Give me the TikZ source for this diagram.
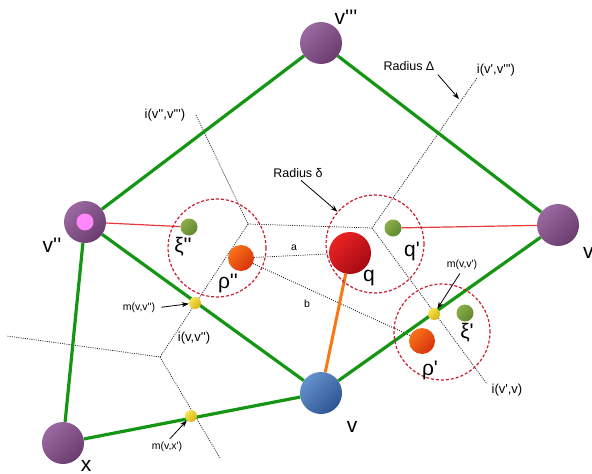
\documentclass[tikz,border=0pt]{standalone}
\usepackage{fontspec}
\setmainfont{Liberation Sans}
\usetikzlibrary{backgrounds,arrows.meta}
\newcommand{\myq}{\textquotesingle}
\definecolor{gline}{RGB}{20,150,20}
\definecolor{rline}{RGB}{232,60,60}
\definecolor{oline}{RGB}{250,120,20}
\definecolor{dcirc}{RGB}{200,30,50}
\definecolor{purL}{RGB}{155,105,160}
\definecolor{purD}{RGB}{105,60,110}
\definecolor{bluL}{RGB}{100,145,205}
\definecolor{bluD}{RGB}{45,85,145}
\definecolor{redL}{RGB}{235,35,35}
\definecolor{redD}{RGB}{165,10,20}
\definecolor{orL}{RGB}{248,115,25}
\definecolor{orD}{RGB}{215,50,10}
\definecolor{grL}{RGB}{140,175,75}
\definecolor{grD}{RGB}{95,135,45}
\definecolor{yeL}{RGB}{248,228,80}
\definecolor{yeD}{RGB}{215,178,20}
\definecolor{pinkc}{RGB}{255,135,250}
\tikzset{
  ball/.style={circle, inner sep=0pt, shading=axis, shading angle=45},
  purball/.style={ball, top color=purL, bottom color=purD, shading angle=45, minimum size=42pt},
  bluball/.style={ball, top color=bluL, bottom color=bluD, shading angle=45, minimum size=42pt},
  redball/.style={ball, top color=redL, bottom color=redD, shading angle=45, minimum size=42pt},
  orball/.style={ball, top color=orL, bottom color=orD, shading angle=45, minimum size=26pt},
  grball/.style={ball, top color=grL, bottom color=grD, shading angle=45, minimum size=17pt},
  yeball/.style={ball, top color=yeL, bottom color=yeD, shading angle=45, minimum size=12pt},
  dcircle/.style={circle, draw=dcirc, line width=1.2pt, dash pattern=on 3pt off 2pt, minimum size=98pt, inner sep=0pt},
  gedge/.style={draw=gline, line width=3.2pt},
  redge/.style={draw=rline, line width=1.2pt},
  oedge/.style={draw=oline, line width=3pt},
  vor/.style={draw=black!85, line width=0.75pt, dash pattern=on 1pt off 1.2pt},
  arr/.style={draw=black, line width=0.8pt, -{Stealth[length=7pt,width=5pt]}},
  big/.style={inner sep=0pt, font=\fontsize{21}{24}\selectfont},
  ilbl/.style={inner sep=0pt, font=\fontsize{13}{15}\selectfont},
  rlbl/.style={inner sep=0pt, font=\fontsize{12.5}{15}\selectfont},
  mlbl/.style={inner sep=0pt, font=\fontsize{10.5}{12}\selectfont},
}
\begin{document}
\begin{tikzpicture}[x=1pt,y=-1pt]
\useasboundingbox (0,0) rectangle (592,474);
% voronoi vertices and ends
\coordinate (A) at (248,224);
\coordinate (B) at (372,228);
\coordinate (C) at (160,357);
\coordinate (e1) at (196,115);
\coordinate (e2) at (477,78);
\coordinate (e3) at (487,384);
\coordinate (e4) at (7,336);
\coordinate (e5) at (220,458);
% dashed circles
\node[dcircle] (c1) at (217,248) {};
\node[dcircle] (c2) at (375,244) {};
\node[dcircle, minimum size=96pt] (c3) at (442,332) {};
% balls
\node[purball] (vppp) at (321,43) {};
\node[purball] (vpp) at (85,222) {};
\node[circle, fill=pinkc, minimum size=17pt, inner sep=0pt] (pink) at (vpp) {};
\node[purball] (vp) at (558,225) {};
\node[purball] (x) at (63,443) {};
\node[bluball] (v) at (321,393) {};
\node[redball] (q) at (350,253) {};
\node[grball] (qp) at (393,228) {};
\node[grball] (xipp) at (189,227) {};
\node[grball] (xip) at (465,313) {};
\node[orball] (rhopp) at (241,258) {};
\node[orball] (rhop) at (422,341) {};
\node[yeball] (mvvpp) at (195,303) {};
\node[yeball] (mvx) at (191,416) {};
\node[yeball] (mvvp) at (434,314) {};
\coordinate (tD) at (459,99);
\begin{pgfonlayer}{background}
  \fill[white] (0,0) rectangle (592,474);
  \draw[vor] (e1) -- (A) -- (B) -- (e2);
  \draw[vor] (B) -- (e3);
  \draw[vor] (A) -- (C) -- (e4);
  \draw[vor] (C) -- (e5);
  \draw[vor] (rhopp) -- (q);
  \draw[vor] (rhopp) -- (rhop);
  \draw[gedge] (vpp) -- (vppp);
  \draw[gedge] (vppp) -- (vp);
  \draw[gedge] (vpp) -- (v);
  \draw[gedge] (vpp) -- (x);
  \draw[gedge] (x) -- (v);
  \draw[gedge] (v) -- (vp);
  \draw[redge] (vpp) -- (xipp);
  \draw[redge] (qp) -- (vp);
  \draw[oedge] (q) -- (v);
\end{pgfonlayer}
% labels
\node[big] (lvppp) at (346,17) {v\myq\myq\myq};
\node[big] (lvpp) at (52,245) {v\myq\myq};
\node[big, anchor=west] (lvp) at (583,251) {v\myq};
\node[big] (lx) at (86,466) {x};
\node[big] (lv) at (352,427) {v};
\node[big] (lq) at (369,278) {q};
\node[big] (lqp) at (412,251) {q\myq};
\node[big] (lxipp) at (183,247) {ξ\myq\myq};
\node[big] (lrhopp) at (228,283) {ρ\myq\myq};
\node[big] (lrhop) at (430,370) {ρ\myq};
\node[big] (lxip) at (467,333) {ξ\myq};
\node[mlbl] (la) at (294,248) {a};
\node[mlbl] (lb) at (307,304) {b};
\node[rlbl] (lRd) at (298,173) {Radius δ};
\node[rlbl] (lRD) at (409,66) {Radius Δ};
\node[ilbl] (li1) at (496,70) {i(v\myq,v\myq\myq\myq)};
\node[ilbl] (li2) at (165,115) {i(v\myq\myq,v\myq\myq\myq)};
\node[ilbl] (li3) at (194,338) {i(v,v\myq\myq)};
\node[ilbl] (li4) at (507,390) {i(v\myq,v)};
\node[mlbl] (lm1) at (139,308) {m(v,v\myq\myq)};
\node[mlbl] (lm2) at (167,447) {m(v,x\myq)};
\node[mlbl] (lm3) at (462,265) {m(v,v\myq)};
% arrows
\draw[arr, shorten <=5pt] (lRD.south east) -- (tD);
\draw[arr, shorten <=4pt] (lRd.south) -- (c2);
\draw[arr, shorten <=6pt] (lm1.east) -- (mvvpp);
\draw[arr, shorten <=4pt] (lm2.north) -- (mvx);
\draw[arr, shorten <=4pt] (lm3.south) -- (mvvp);
\end{tikzpicture}
\end{document}
